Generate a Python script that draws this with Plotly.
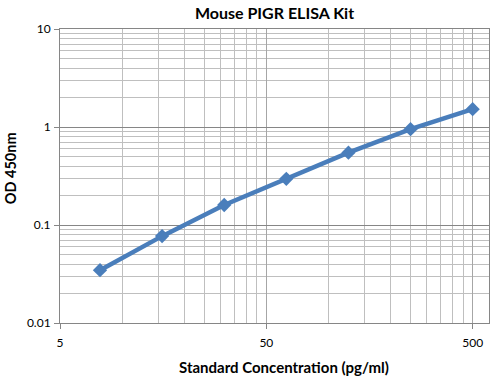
import plotly.graph_objects as go

concentration = [7.8125, 15.625, 31.25, 62.5, 125, 250, 500]
od450 = [0.0346, 0.077, 0.160, 0.296, 0.547, 0.951, 1.52]

x_major = [5, 50, 500]
x_major_text = ["5", "50", "500"]
x_minor = [5 * n for n in range(2, 10)] + [50 * n for n in range(2, 10)]
y_major = [0.01, 0.1, 1, 10]
y_major_text = ["0.01", "0.1", "1", "10"]
y_minor = [d * n for d in (0.01, 0.1, 1) for n in range(2, 10)]

font_family = "Lato, 'Open Sans', sans-serif"
W, H = 504, 376

fig = go.Figure()
fig.add_trace(go.Scatter(
    x=concentration, y=od450, mode="lines+markers",
    line=dict(color="#4A7EBB", width=4.5),
    marker=dict(symbol="diamond", size=11, color="#4A7EBB"),
    showlegend=False,
))

fig.update_layout(
    width=W, height=H,
    margin=dict(l=60, r=15, t=29, b=53),
    paper_bgcolor="white", plot_bgcolor="white",
    font=dict(family=font_family, color="#000000"),
    title=dict(text="<b>Mouse PIGR ELISA Kit</b>", x=0.5447, xanchor="center",
               y=1 - 13 / H, yanchor="middle", font=dict(size=16)),
    annotations=[
        dict(text="<b>Standard Concentration (pg/ml)</b>", xref="paper", yref="paper",
             x=(284 - 60) / (W - 75), y=-(367 - 322.7) / (H - 82),
             xanchor="center", yanchor="middle", showarrow=False,
             font=dict(size=15)),
        dict(text="<b>OD 450nm</b>", xref="paper", yref="paper",
             x=-(60 - 10) / (W - 75), y=(322.7 - 168) / (H - 82),
             xanchor="center", yanchor="middle", showarrow=False, textangle=-90,
             font=dict(size=14.5)),
    ],
)
fig.update_xaxes(
    type="log", range=[0.69897, 2.7782],
    tickmode="array", tickvals=x_major, ticktext=x_major_text,
    tickfont=dict(size=12), ticks="outside", ticklen=5, tickcolor="#868686",
    ticklabelstandoff=4,
    showgrid=True, gridcolor="#A6A6A6", gridwidth=1,
    minor=dict(tickmode="array", tickvals=x_minor, showgrid=True,
               gridcolor="#BFBFBF", gridwidth=1, ticks=""),
    showline=True, linecolor="#868686", linewidth=1, mirror=True,
    zeroline=False,
)
fig.update_yaxes(
    type="log", range=[-2, 1],
    tickmode="array", tickvals=y_major, ticktext=y_major_text,
    tickfont=dict(size=12), ticks="outside", ticklen=5, tickcolor="#868686",
    ticklabelstandoff=1,
    showgrid=True, gridcolor="#868686", gridwidth=1,
    minor=dict(tickmode="array", tickvals=y_minor, showgrid=True,
               gridcolor="#BFBFBF", gridwidth=1, ticks=""),
    showline=True, linecolor="#868686", linewidth=1, mirror=True,
    zeroline=False,
)

fig.write_html("out.html")
